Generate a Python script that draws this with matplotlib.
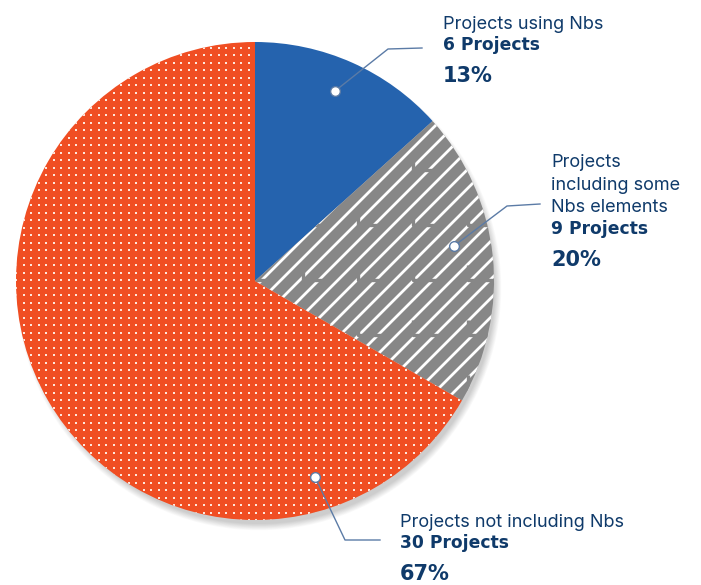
import matplotlib.pyplot as plt
import numpy as np
from matplotlib.patches import Circle

W, H = 701, 585

# Project counts per category
labels = [["Projects using Nbs"],
          ["Projects", "including some", "Nbs elements"],
          ["Projects not including Nbs"]]
counts = [6, 9, 30]
colors = ["#2563ae", "#878787", "#f04e23"]
navy = "#0f3a6a"
leader = "#5b7ba6"

total = sum(counts)
shares = [round(100 * c / total) for c in counts]

fig = plt.figure(figsize=(W / 100, H / 100), dpi=100)
ax = fig.add_axes([0, 0, 1, 1])

cx, cy, r = 255, H - 281, 239

# soft drop shadow toward the lower right
for i in range(10):
    ax.add_patch(Circle((cx + 4, cy - 7), r - 3 + i * 0.7, color="k", alpha=0.018, lw=0, zorder=0))

wedges, _ = ax.pie(counts, colors=colors, startangle=90, counterclock=False,
                   center=(cx, cy), radius=r, wedgeprops=dict(linewidth=0))
for w in wedges:
    w.set_zorder(1)

# dotted texture on the large slice
gx, gy = np.meshgrid(np.arange(cx - r, cx + r, 7.5), np.arange(cy - r, cy + r, 7.5))
dots = ax.scatter(gx.ravel(), gy.ravel(), s=3.0, marker="s", c="#fde6dc", lw=0, zorder=2)
dots.set_clip_path(wedges[2])

# diagonal stripes on the middle slice
xs = np.array([cx - 100, cx + r + 100])
for c in np.arange(cx - 260, cx + r + 220, 19):
    ln, = ax.plot(xs, cy + (xs - c), color="white", lw=2.0, zorder=2,
                  solid_capstyle="butt")
    ln.set_clip_path(wedges[1])

# stepped breaks cut through the stripes
tile = 55
for tx in np.arange(cx - 7, cx + r + tile, tile):
    for ty in np.arange(H - 155 + 3 * tile, cy - r - tile, -tile):
        ln, = ax.plot([tx, tx, tx + 25], [ty, ty - 15, ty - 15], color=colors[1],
                      lw=2.4, zorder=2.5, solid_capstyle="butt")
        ln.set_clip_path(wedges[1])

# leader lines with their anchor dots
leaders = [
    [(335, 91), (388, 49), (422, 48)],
    [(454, 246), (507, 206), (540, 204)],
    [(315, 477), (345, 540), (380, 540)],
]
for pts in leaders:
    px = [p[0] for p in pts]
    py = [H - p[1] for p in pts]
    ax.plot(px, py, color=leader, lw=1.0, zorder=3)
    ax.plot(px[0], py[0], "o", ms=7, mfc="white", mec=leader, mew=1.0, zorder=4)

# category annotations, placed by baseline
regular = "Inter"
anchors = [(443, 29), (551, 167), (400, 527)]
step = 22.5
for (x, y), lines, n, pct in zip(anchors, labels, counts, shares):
    for i, line in enumerate(lines):
        ax.text(x, H - (y + i * step), line, fontsize=13, family=regular,
                color=navy, va="baseline", zorder=5)
    yb = y + len(lines) * step - 1
    ax.text(x, H - yb, f"{n} Projects", fontsize=12.3, family="DejaVu Sans",
            weight="bold", color=navy, va="baseline", zorder=5)
    ax.text(x, H - (yb + 32), f"{pct}%", fontsize=15, family="DejaVu Sans",
            weight="bold", color=navy, va="baseline", zorder=5)

ax.set_xlim(0, W)
ax.set_ylim(0, H)
ax.set_aspect("auto")
ax.axis("off")

fig.savefig("out.png", dpi=100)
